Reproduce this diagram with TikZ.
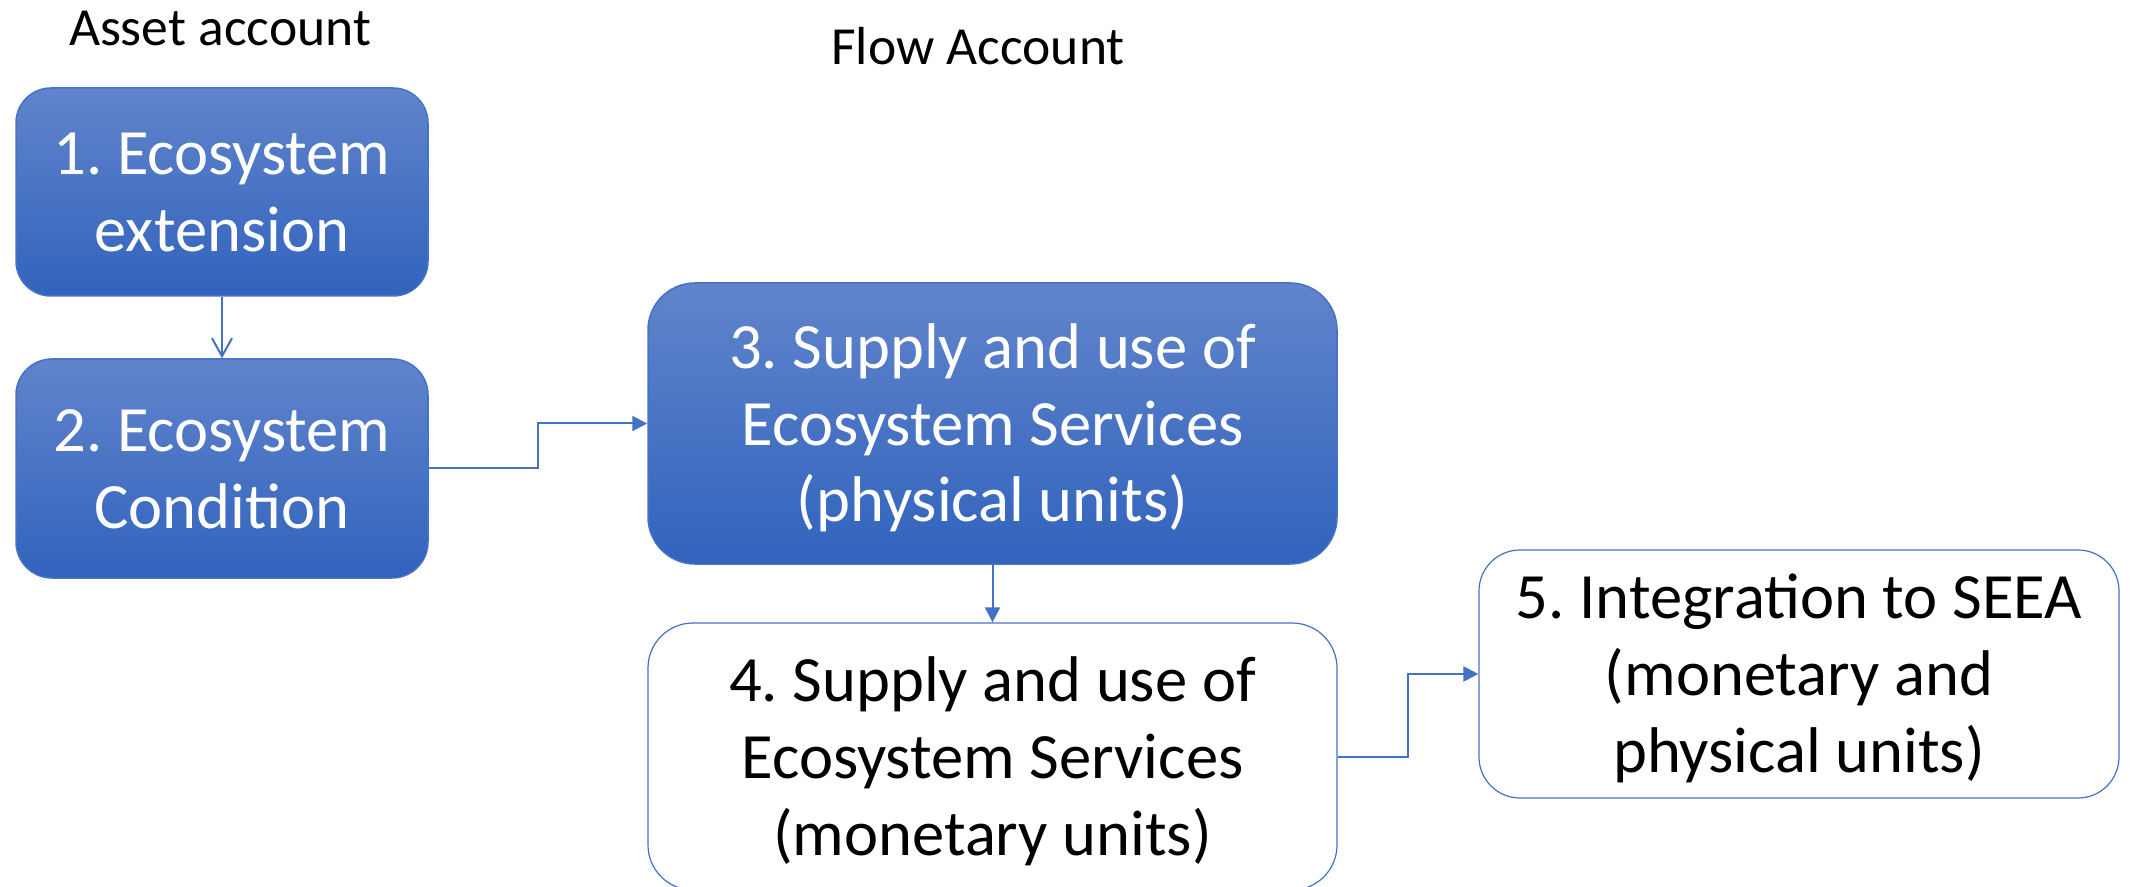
\documentclass[tikz,border=0pt]{standalone}
\usepackage{fontspec}
\setmainfont{Carlito}
\frenchspacing
\usetikzlibrary{arrows.meta,calc}
\definecolor{lineblue}{RGB}{68,114,196}
\definecolor{topblue}{RGB}{97,132,203}
\definecolor{botblue}{RGB}{49,99,189}
\newcommand{\boxfont}{\fontsize{32.3}{38.5}\selectfont\frenchspacing}
\newcommand{\labfont}{\fontsize{26.8}{31}\selectfont\frenchspacing}
\newcommand{\tstrut}{\rule{0pt}{32pt}}
\newcommand{\bstrut}{\rule[-10.5pt]{0pt}{0pt}}
\tikzset{
  bluebox/.style={draw=lineblue, line width=0.75pt, top color=topblue, bottom color=botblue,
    text=white, align=center, font=\boxfont, inner sep=0pt},
  whitebox/.style={draw=lineblue, line width=0.6pt, fill=white,
    text=black, align=center, font=\boxfont, inner sep=0pt},
  conn/.style={draw=lineblue, line width=1pt},
  openarrow/.style={conn, -{Straight Barb[length=9pt,width=10pt,line width=1pt]}},
  fillarrow/.style={conn, -{Triangle[length=7.5pt,width=7.5pt]}},
  lab/.style={font=\labfont, text=black, anchor=base, inner sep=0pt}
}
\begin{document}
\begin{tikzpicture}[x=0.5pt,y=-0.5pt]
\clip (0,0) rectangle (2131,887);
\fill[white] (0,0) rectangle (2131,887);
\node[lab] (asset) at (220,46) {Asset account};
\node[lab] (flow) at (978,65) {Flow Account};
\node[bluebox, minimum width=206pt, minimum height=104pt, rounded corners=17.5pt] (b1) at (222,192) {\tstrut 1. Ecosystem\\extension\bstrut};
\node[bluebox, minimum width=206pt, minimum height=109.5pt, rounded corners=18pt] (b2) at (222,468.5) {\tstrut 2. Ecosystem\\Condition\bstrut};
\node[bluebox, minimum width=344.5pt, minimum height=140.5pt, rounded corners=23.5pt] (b3) at (992.5,423.5) {\tstrut 3. Supply and use of\\Ecosystem Services\\(physical units)\bstrut};
\node[whitebox, minimum width=344.5pt, minimum height=133.5pt, rounded corners=22.5pt] (b4) at (992.5,756.5) {\tstrut 4. Supply and use of\\Ecosystem Services\\(monetary units)\bstrut};
\node[whitebox, minimum width=320pt, minimum height=124pt, rounded corners=20.5pt] (b5) at (1799,674) {\tstrut 5. Integration to SEEA\\(monetary and\\physical units)\bstrut};
\coordinate (m23) at ($(b2.east)!0.5!(b3.west)$);
\coordinate (m45) at ($(b4.east)!0.5!(b5.west)$);
\draw[openarrow] (b1.south) -- (b2.north);
\draw[fillarrow] (b2.east) -| (m23) |- (b3.west);
\draw[fillarrow] (b3.south) -- (b4.north);
\draw[fillarrow] (b4.east) -| (m45) |- (b5.west);
\end{tikzpicture}
\end{document}
